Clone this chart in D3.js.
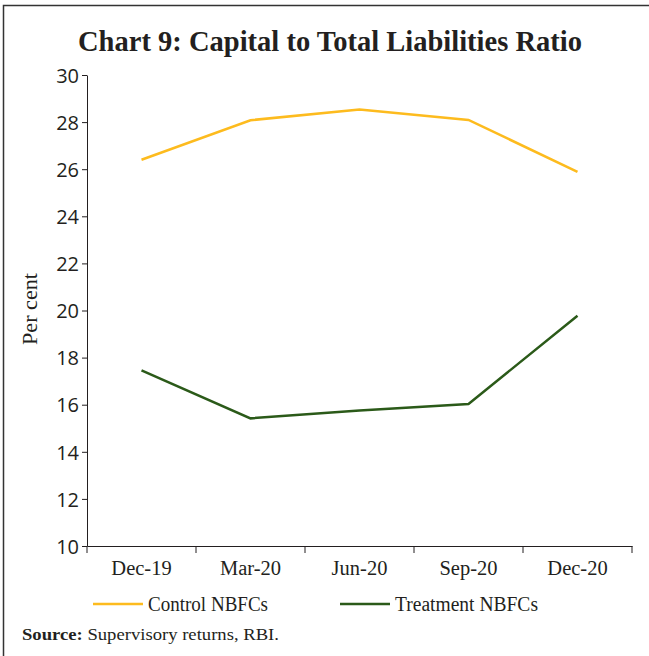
<!DOCTYPE html>
<html><head><meta charset="utf-8">
<script src="https://cdn.jsdelivr.net/npm/d3@7"></script>
<style>body{margin:0;background:#fff}</style>
</head><body>
<script>
const categories = ["Dec-19","Mar-20","Jun-20","Sep-20","Dec-20"];
const controlValues = [26.40, 28.08, 28.53, 28.09, 25.89];
const treatmentValues = [17.46, 15.42, 15.75, 16.03, 19.78];
const yTicks = [10,12,14,16,18,20,22,24,26,28,30];
const seriesNames = ["Control NBFCs","Treatment NBFCs"];
const colors = ["#FDBB1E","#2B5A19"];

const W=649,H=656;
const svg=d3.select("body").append("svg").attr("width",W).attr("height",H);
svg.append("rect").attr("width",W).attr("height",H).attr("fill","#fff");
svg.append("path").attr("d","M3.5,656 L3.5,5.5 L649,5.5").attr("fill","none").attr("stroke","#333").attr("stroke-width",1.5);

const serif="'Liberation Serif','DejaVu Serif',serif";
const sans="'Open Sans','Noto Sans',sans-serif";

svg.append("text").attr("x",330).attr("y",51).attr("text-anchor","middle")
 .attr("font-family",serif).attr("font-weight","bold").attr("font-size",29).attr("fill","#231f20")
 .attr("textLength",504).attr("lengthAdjust","spacingAndGlyphs")
 .text("Chart 9: Capital to Total Liabilities Ratio");

const x0=87,x1=632,yTop=75,yBot=546;
const x=d3.scaleBand().domain(categories).range([x0,x1]);
const y=d3.scaleLinear().domain([10,30]).range([yBot,yTop]);

const ya=svg.append("g").attr("transform",`translate(${x0},0)`)
 .call(d3.axisLeft(y).tickValues(yTicks).tickSize(5).tickPadding(3).tickSizeOuter(0));
ya.selectAll("text").attr("font-family",sans).attr("font-size",20).attr("fill","#231f20").attr("dy","0.36em");
ya.selectAll("line,path").attr("stroke","#231f20");

const xa=svg.append("g").attr("transform",`translate(0,${yBot})`)
 .call(d3.axisBottom(x).tickSize(0).tickPadding(14));
xa.selectAll("text").attr("font-family",serif).attr("font-size",20.5).attr("fill","#231f20");
xa.selectAll("path").attr("stroke","#231f20");
const bounds=[...categories.map(c=>x(c)), x1];
xa.selectAll(".bt").data(bounds).enter().append("line").attr("class","bt")
 .attr("x1",d=>d).attr("x2",d=>d).attr("y1",0).attr("y2",7).attr("stroke","#231f20");

svg.append("text").attr("transform","translate(37,309) rotate(-90)").attr("text-anchor","middle")
 .attr("font-family",serif).attr("font-size",21).attr("fill","#231f20")
 .attr("textLength",72).attr("lengthAdjust","spacingAndGlyphs").text("Per cent");

const line=d3.line().x((d,i)=>x(categories[i])+x.bandwidth()/2).y(d=>y(d));
[controlValues,treatmentValues].forEach((vals,k)=>{
 svg.append("path").datum(vals).attr("d",line).attr("fill","none")
  .attr("stroke",colors[k]).attr("stroke-width",2.5).attr("stroke-linejoin","miter");
});

const legX=[93,340];
const legLen=[120,143];
seriesNames.forEach((n,k)=>{
 svg.append("line").attr("x1",legX[k]).attr("x2",legX[k]+50).attr("y1",604).attr("y2",604)
  .attr("stroke",colors[k]).attr("stroke-width",2.5);
 svg.append("text").attr("x",legX[k]+55).attr("y",611).attr("font-family",serif).attr("font-size",20)
  .attr("fill","#231f20").attr("textLength",legLen[k]).attr("lengthAdjust","spacingAndGlyphs").text(n);
});

const src=svg.append("text").attr("x",22).attr("y",640).attr("font-family",serif).attr("font-size",17.5).attr("fill","#231f20")
 .attr("textLength",257).attr("lengthAdjust","spacingAndGlyphs");
src.append("tspan").attr("font-weight","bold").text("Source:");
src.append("tspan").text(" Supervisory returns, RBI.");
</script>
</body></html>
